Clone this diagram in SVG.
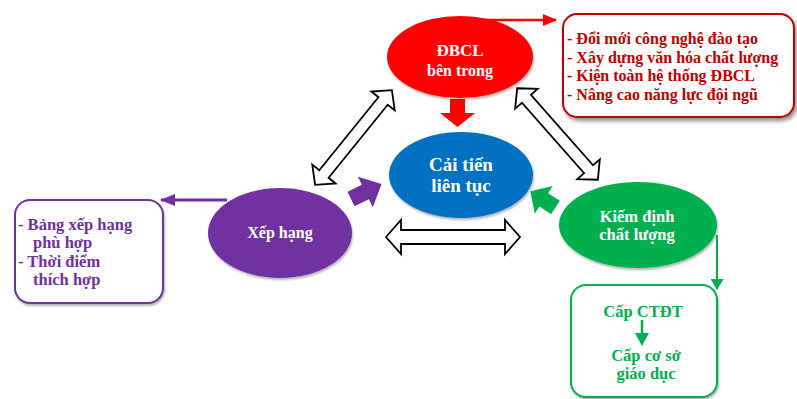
<svg xmlns="http://www.w3.org/2000/svg" width="797" height="399" viewBox="0 0 797 399">
  <style>
    .t { font-family: "Liberation Serif", "Times New Roman", serif; font-weight: bold; }
    .w { fill: #ffffff; }
    .hollow { fill: #ffffff; stroke: #000000; stroke-width: 1.8; stroke-linejoin: miter; }
  </style>
  <defs>
    <filter id="shadow" x="-10%" y="-10%" width="125%" height="130%">
      <feGaussianBlur in="SourceAlpha" stdDeviation="2"/>
      <feOffset dx="2" dy="3" result="b"/>
      <feComponentTransfer><feFuncA type="linear" slope="0.45"/></feComponentTransfer>
      <feMerge><feMergeNode/><feMergeNode in="SourceGraphic"/></feMerge>
    </filter>
    <filter id="soft" x="-10%" y="-10%" width="125%" height="130%">
      <feGaussianBlur in="SourceAlpha" stdDeviation="1.2"/>
      <feOffset dx="1" dy="2" result="b"/>
      <feComponentTransfer><feFuncA type="linear" slope="0.3"/></feComponentTransfer>
      <feMerge><feMergeNode/><feMergeNode in="SourceGraphic"/></feMerge>
    </filter>
    <marker id="mRed" markerUnits="userSpaceOnUse" viewBox="0 0 14 12" refX="13" refY="6" markerWidth="14" markerHeight="12" orient="auto">
      <path d="M0,0 L14,6 L0,12 z" fill="#ff0000"/>
    </marker>
    <marker id="mPurple" markerUnits="userSpaceOnUse" viewBox="0 0 15 12" refX="14" refY="6" markerWidth="15" markerHeight="12" orient="auto">
      <path d="M0,0 L15,6 L0,12 z" fill="#7030a0"/>
    </marker>
    <marker id="mGreen" markerUnits="userSpaceOnUse" viewBox="0 0 11 13" refX="10" refY="6.5" markerWidth="11" markerHeight="13" orient="auto">
      <path d="M0,0 L11,6.5 L0,13 z" fill="#00b050"/>
    </marker>
  </defs>

  <!-- connectors -->
  <g id="connectors">
    <!-- hollow double arrows between the outer nodes -->
    <path class="hollow" transform="translate(453,237)" d="M-67,0 L-52,-17 L-52,-7 L52,-7 L52,-17 L67,0 L52,17 L52,7 L-52,7 L-52,17 Z"/>
    <path class="hollow" transform="translate(353.5,137.5) rotate(-51)" d="M-61,0 L-47,-15 L-47,-6 L47,-6 L47,-15 L61,0 L47,15 L47,6 L-47,6 L-47,15 Z"/>
    <path class="hollow" transform="translate(557.5,134) rotate(48.6)" d="M-61,0 L-47,-15 L-47,-6 L47,-6 L47,-15 L61,0 L47,15 L47,6 L-47,6 L-47,15 Z"/>

    <!-- filled block arrows into the centre -->
    <polygon fill="#ff0000" points="450,99 465,99 465,113 475,113 457.5,127 440,113 450,113"/>
    <polygon fill="#7030a0" transform="translate(351,199) rotate(-26)" points="0,-8 16,-8 16,-17 34,0 16,17 16,8 0,8"/>
    <polygon fill="#00b050" transform="translate(555.5,207.5) rotate(213)" points="0,-8 14,-8 14,-16.5 30,0 14,16.5 14,8 0,8"/>

    <!-- thin arrows to the detail boxes -->
    <polyline points="483,20 556,20" fill="none" stroke="#ff0000" stroke-width="2.5" marker-end="url(#mRed)"/>
    <polyline points="227,200 161,200" fill="none" stroke="#7030a0" stroke-width="3" marker-end="url(#mPurple)"/>
    <polyline points="717,235 717,289" fill="none" stroke="#00b050" stroke-width="2" marker-end="url(#mGreen)"/>
  </g>

  <!-- ĐBCL bên trong -->
  <g id="node-dbcl">
    <ellipse cx="460" cy="57" rx="73" ry="41" fill="#ff0000" filter="url(#soft)"/>
    <text class="t w" x="460" y="56" font-size="17" text-anchor="middle">ĐBCL</text>
    <text class="t w" x="460" y="76" font-size="16" text-anchor="middle">bên trong</text>
  </g>

  <!-- detail box for ĐBCL -->
  <g id="box-dbcl">
    <rect x="563" y="14" width="231" height="103" rx="14" fill="#ffffff" stroke="#c00000" stroke-width="2" filter="url(#shadow)"/>
    <g class="t" font-size="16" fill="#c00000">
      <text x="567" y="44">- Đổi mới công nghệ đào tạo</text>
      <text x="567" y="63">- Xây dựng văn hóa chất lượng</text>
      <text x="567" y="81">- Kiện toàn hệ thống ĐBCL</text>
      <text x="567" y="100">- Nâng cao năng lực đội ngũ</text>
    </g>
  </g>

  <!-- Cải tiến liên tục -->
  <g id="node-caitien">
    <ellipse cx="461" cy="175" rx="72" ry="43" fill="#0070c0" filter="url(#soft)"/>
    <text class="t w" x="461" y="171" font-size="19" text-anchor="middle">Cải tiến</text>
    <text class="t w" x="461" y="192" font-size="19" text-anchor="middle">liên tục</text>
  </g>

  <!-- Xếp hạng -->
  <g id="node-xephang">
    <ellipse cx="280" cy="233" rx="72" ry="45" fill="#7030a0" filter="url(#soft)"/>
    <text class="t w" x="280" y="238" font-size="16" text-anchor="middle">Xếp hạng</text>
  </g>

  <!-- detail box for Xếp hạng -->
  <g id="box-xephang">
    <rect x="15" y="200" width="148" height="103" rx="15" fill="#ffffff" stroke="#7030a0" stroke-width="2" filter="url(#soft)"/>
    <g class="t" font-size="16.5" fill="#7030a0">
      <text x="18" y="230">- Bảng xếp hạng</text>
      <text x="33" y="248">phù hợp</text>
      <text x="18" y="267">- Thời điểm</text>
      <text x="33" y="285">thích hợp</text>
    </g>
  </g>

  <!-- Kiểm định chất lượng -->
  <g id="node-kiemdinh">
    <ellipse cx="638" cy="225" rx="79" ry="43" fill="#00b050" filter="url(#soft)"/>
    <text class="t w" x="637" y="222" font-size="16.5" text-anchor="middle">Kiếm định</text>
    <text class="t w" x="637" y="240" font-size="16.5" text-anchor="middle">chất lượng</text>
  </g>

  <!-- detail box for Kiểm định -->
  <g id="box-kiemdinh">
    <rect x="571" y="285" width="146" height="112" rx="15" fill="#ffffff" stroke="#00b050" stroke-width="2" filter="url(#soft)"/>
    <g class="t" font-size="16.5" fill="#00b050" text-anchor="middle">
      <text x="643" y="317">Cấp CTĐT</text>
      <text x="646" y="361">Cấp cơ sở</text>
      <text x="646" y="379">giáo dục</text>
    </g>
    <!-- level arrow inside the box -->
    <line x1="642" y1="320" x2="642" y2="334" stroke="#00b050" stroke-width="2.5"/>
    <polygon fill="#00b050" points="635,333 649,333 642,346"/>
  </g>
</svg>
